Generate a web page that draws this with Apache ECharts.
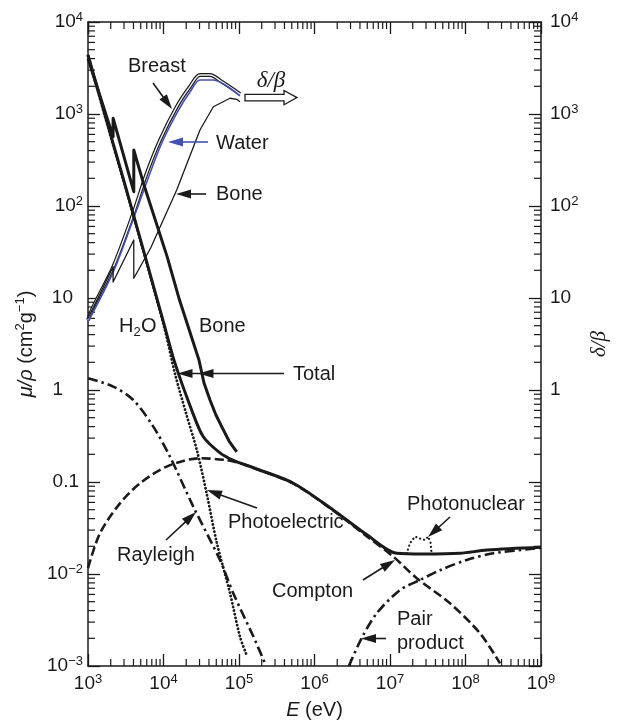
<!DOCTYPE html>
<html>
<head>
<meta charset="utf-8">
<script src="https://cdn.jsdelivr.net/npm/echarts@6/dist/echarts.min.js"></script>
<style>
  html, body { margin: 0; padding: 0; background: #fff; }
  #chart { width: 617px; height: 724px; }
</style>
</head>
<body>
<div id="chart"></div>
<script>
// Photon interaction cross sections of water (cm^2/g) versus energy E (eV),
// plus the delta/beta ratio of breast tissue, water and bone.
// Each list holds [E (eV), value] pairs.

const totalWater = [[1e3, 4400], [2.16e3, 472], [3.31e3, 140], [1.01e4, 5.3], [1.38e4, 2.1],
  [2.36e4, 0.607], [3.37e4, 0.31], [5.6e4, 0.207], [8.3e4, 0.173], [1.58e5, 0.142],
  [5.25e5, 0.097], [1.77e6, 0.0496], [4.9e6, 0.0268], [1.23e7, 0.0168], [2.76e7, 0.0165],
  [8.45e7, 0.0168], [1.93e8, 0.0182], [1e9, 0.0195]];

const totalBone = [[1e3, 4000], [2.15e3, 566], [2.15e3, 900], [4.04e3, 143], [4.04e3, 406],
  [5.5e3, 170], [1.12e4, 28], [1.63e4, 9.5], [2.95e4, 2.12], [3.44e4, 1.19], [4.13e4, 0.778],
  [4.95e4, 0.535], [5.9e4, 0.399], [7.38e4, 0.279], [9.33e4, 0.213]];

const photoelectric = [[1e3, 4250], [2.16e3, 455], [3.31e3, 136], [1.01e4, 5.0], [1.42e4, 1.5],
  [2.0e4, 0.55], [2.76e4, 0.223], [3.73e4, 0.0753], [5.07e4, 0.022], [7.6e4, 0.0062],
  [1.03e5, 0.00209], [1.26e5, 0.00132]];

const rayleigh = [[1e3, 1.34], [2.16e3, 1.09], [3.98e3, 0.778], [7.33e3, 0.40], [1.22e4, 0.188],
  [2.48e4, 0.054], [5.6e4, 0.0142], [8.41e4, 0.00616], [1.55e5, 0.00209], [2.21e5, 0.00107]];

const compton = [[1e3, 0.0116], [1.44e3, 0.0277], [2.65e3, 0.0586], [4.89e3, 0.0968],
  [1.1e4, 0.147], [3.04e4, 0.181], [6.87e4, 0.173], [1.03e5, 0.16], [1.58e5, 0.142],
  [5.25e5, 0.096], [1.77e6, 0.049], [4.9e6, 0.0258], [1.11e7, 0.0154], [2.26e7, 0.009],
  [6.24e7, 0.0048], [1.56e8, 0.00226], [2.86e8, 0.00107]];

const pairProduction = [[2.85e6, 0.001], [4.2e6, 0.002], [6.67e6, 0.00374], [1.36e7, 0.0067],
  [2.49e7, 0.0086], [4.59e7, 0.011], [1.04e8, 0.0142], [2.33e8, 0.0168], [1e9, 0.0192]];

const photonuclear = [[1.66e7, 0.0167], [1.84e7, 0.0216], [2.14e7, 0.0255], [2.49e7, 0.0243],
  [2.91e7, 0.0234], [3.21e7, 0.0255], [3.47e7, 0.0215], [3.55e7, 0.0166]];

const deltaBetaBreast = [[1e3, 5.77], [1.175e3, 8.04], [2.16e3, 21.9], [3.98e3, 83.2],
  [5.98e3, 226], [9.0e3, 522], [1.5e4, 1200], [2.24e4, 1980], [3.04e4, 2655],
  [4.13e4, 2655], [5.96e4, 2230], [1.03e5, 1650]];

const deltaBetaWater = [[1e3, 5.5], [2.16e3, 19.2], [3.98e3, 72], [9.0e3, 438], [1.5e4, 1025],
  [2.24e4, 1733], [3.04e4, 2343], [4.53e4, 2343], [1.03e5, 1570]];

const deltaBetaBone = [[1e3, 6.0], [2.15e3, 21.9], [2.15e3, 14.9], [4.04e3, 42.7], [4.04e3, 16.4],
  [6.76e3, 35], [1.5e4, 150], [3.04e4, 670], [4.57e4, 1200], [7.6e4, 1483],
  [9.33e4, 1445], [1.03e5, 1362]];

// Axis ranges and minor tick multipliers
const energyRange = [1e3, 1e9];
const muRange = [1e-3, 1e4];
const energyDecades = [1e3, 1e4, 1e5, 1e6, 1e7, 1e8];
const muDecades = [1e-3, 1e-2, 1e-1, 1, 10, 100, 1000];
const minorSteps = [2, 3, 4, 5, 6, 7, 8, 9];

const INK = '#1a1a1a';
const BLUE = '#4351b3';
const FONT = '"Liberation Sans", Arial, Helvetica, sans-serif';
const SERIF = '"Liberation Serif", "DejaVu Serif", serif';

const richTick = {
  b:   { fontSize: 19, fontFamily: FONT, color: INK, lineHeight: 22 },
  b10: { fontSize: 19, fontFamily: FONT, color: INK, lineHeight: 22, padding: [0, 10, 0, 0] },
  b1:  { fontSize: 19, fontFamily: FONT, color: INK, lineHeight: 22, padding: [0, 20, 0, 0] },
  b01: { fontSize: 19, fontFamily: FONT, color: INK, lineHeight: 22, padding: [0, 4, 0, 0] },
  s:   { fontSize: 13, fontFamily: FONT, color: INK, verticalAlign: 'top', lineHeight: 13 }
};

function expOf(v) { return Math.round(Math.log10(v)); }
function powText(e) { return '{b|10}{s|' + (e < 0 ? '\u2212' + (-e) : e) + '}'; }

function leftLabel(v) {
  const e = expOf(v);
  if (e === 0) return '{b1|1}';
  if (e === 1) return '{b10|10}';
  if (e === -1) return '{b01|0.1}';
  return powText(e);
}
function rightLabel(v) {
  const e = expOf(v);
  if (e < 0) return '';
  if (e === 0) return '{b|1}';
  if (e === 1) return '{b|10}';
  return powText(e);
}
function energyLabel(v) { return powText(expOf(v)); }

// Minor ticks (2..9 within each decade) on all four sides of the frame
const minorTicks = [];
muDecades.forEach(d => minorSteps.forEach(m => {
  minorTicks.push([energyRange[0], m * d, 0]);
  minorTicks.push([energyRange[1], m * d, 1]);
}));
energyDecades.forEach(d => minorSteps.forEach(m => {
  minorTicks.push([m * d, muRange[0], 2]);
  minorTicks.push([m * d, muRange[1], 3]);
}));

function baseAxis(extra) {
  return Object.assign({
    type: 'log',
    logBase: 10,
    axisLine: { show: true, onZero: false, lineStyle: { color: INK, width: 1.5 } },
    axisTick: { show: true, inside: true, length: 12, lineStyle: { color: INK, width: 1.3 } },
    splitLine: { show: false },
    minorTick: { show: false },
    minorSplitLine: { show: false }
  }, extra);
}

function lineSeries(name, data, style, extra) {
  return Object.assign({
    name: name,
    type: 'line',
    data: data,
    showSymbol: false,
    symbol: 'none',
    silent: true,
    smooth: 0.3,
    lineStyle: Object.assign({ color: INK, join: 'round' }, style),
    emphasis: { disabled: true },
    animation: false
  }, extra || {});
}
const SHARP = { smooth: false };

// ---- annotation helpers (pixel layout of the callouts) ----
function label(x, y, text, opts) {
  return {
    type: 'text', x: x, y: y, z: 100, silent: true,
    style: Object.assign({
      text: text, fill: INK, font: '20px ' + FONT,
      align: 'left', verticalAlign: 'middle',
      textAlign: 'left', textVerticalAlign: 'middle'
    }, opts || {})
  };
}
function arrowHead(tipX, tipY, fromX, fromY, color) {
  const dx = tipX - fromX, dy = tipY - fromY, L = Math.hypot(dx, dy);
  const ux = dx / L, uy = dy / L, len = 15, hw = 4.6;
  const bx = tipX - ux * len, by = tipY - uy * len;
  return {
    type: 'polygon', z: 100, silent: true,
    shape: { points: [[tipX, tipY], [bx - uy * hw, by + ux * hw], [bx + uy * hw, by - ux * hw]] },
    style: { fill: color }
  };
}
function arrow(x1, y1, x2, y2, color) {
  color = color || INK;
  const dx = x2 - x1, dy = y2 - y1, L = Math.hypot(dx, dy);
  return [
    { type: 'line', z: 100, silent: true,
      shape: { x1: x1, y1: y1, x2: x2 - dx / L * 10, y2: y2 - dy / L * 10 },
      style: { stroke: color, lineWidth: 1.6 } },
    arrowHead(x2, y2, x1, y1, color)
  ];
}

const annotations = [].concat(
  [label(128, 66, 'Breast')], arrow(153, 83, 172, 109),
  [label(216, 143, 'Water')], arrow(208, 142, 168, 142, BLUE),
  [label(216, 194, 'Bone')], arrow(206, 194, 176, 194),
  [label(271, 81, '\u03B4/\u03B2', { font: 'italic 23px ' + SERIF, align: 'center', textAlign: 'center' })],
  [{
    type: 'polygon', z: 100, silent: true,
    shape: { points: [[245, 94.3], [284, 94.3], [284, 90.5], [297, 97.6], [284, 104.7], [284, 100.9], [245, 100.9]] },
    style: { fill: '#fff', stroke: INK, lineWidth: 1.3 }
  }],
  [label(119, 326, 'H'), label(133.5, 332, '2', { font: '13px ' + FONT }), label(141, 326, 'O')],
  [label(199, 326, 'Bone')],
  [label(293, 374, 'Total')],
  [{ type: 'line', z: 100, silent: true, shape: { x1: 284, y1: 373.5, x2: 186, y2: 373.5 },
     style: { stroke: INK, lineWidth: 1.6 } }],
  [arrowHead(198.5, 373.5, 284, 373.5, INK), arrowHead(177.5, 373.5, 284, 373.5, INK)],
  [label(228, 522, 'Photoelectric')], arrow(257, 508, 207, 490),
  [label(117, 555, 'Rayleigh')], arrow(166, 540, 196, 512),
  [label(272, 591, 'Compton')], arrow(363, 580, 395, 560),
  [label(407, 504, 'Photonuclear')], arrow(450, 517, 428, 537),
  [label(397, 619, 'Pair'), label(397, 643, 'product')], arrow(386, 638.5, 361, 638.5)
);

const chart = echarts.init(document.getElementById('chart'), null, { renderer: 'canvas' });

chart.setOption({
  backgroundColor: '#fff',
  animation: false,
  grid: { left: 88, right: 76, top: 22, bottom: 58, containLabel: false, outerBoundsMode: 'none' },
  xAxis: [
    baseAxis({
      position: 'bottom', min: energyRange[0], max: energyRange[1], splitNumber: 6,
      axisLabel: { margin: 7, formatter: energyLabel, rich: richTick },
      name: '{i|E} (eV)', nameLocation: 'middle', nameGap: 34,
      nameTextStyle: { fontSize: 20, fontFamily: FONT, color: INK,
        rich: { i: { fontSize: 20, fontFamily: FONT, color: INK, fontStyle: 'italic' } } }
    }),
    baseAxis({
      position: 'top', min: energyRange[0], max: energyRange[1], splitNumber: 6,
      axisLabel: { show: false }
    })
  ],
  yAxis: [
    baseAxis({
      position: 'left', min: muRange[0], max: muRange[1], splitNumber: 7,
      axisLabel: { margin: 5, formatter: leftLabel, rich: richTick },
      name: '{i|\u03BC/\u03C1} (cm{s|2}g{s|\u22121})', nameLocation: 'middle', nameGap: 50, nameRotate: 90,
      nameTextStyle: { fontSize: 20, fontFamily: FONT, color: INK,
        rich: {
          i: { fontSize: 20, fontFamily: FONT, color: INK, fontStyle: 'italic', lineHeight: 24 },
          s: { fontSize: 13, fontFamily: FONT, color: INK, verticalAlign: 'top', lineHeight: 14 }
        } }
    }),
    baseAxis({
      position: 'right', min: muRange[0], max: muRange[1], splitNumber: 7,
      axisLabel: { margin: 9, formatter: rightLabel, rich: richTick },
      name: '\u03B4/\u03B2', nameLocation: 'middle', nameGap: 46, nameRotate: 90,
      nameTextStyle: { fontSize: 21, fontFamily: SERIF, fontStyle: 'italic', color: INK }
    })
  ],
  series: [
    // delta/beta curves
    lineSeries('Breast', deltaBetaBreast, { width: 3.8, color: INK }),
    lineSeries('Breast inner', deltaBetaBreast, { width: 1.4, color: '#f2f2f2' }),
    lineSeries('Water', deltaBetaWater, { width: 1.6, color: BLUE }),
    lineSeries('Bone', deltaBetaBone, { width: 1.3, color: INK }, SHARP),
    // partial cross sections
    lineSeries('Compton', compton, { width: 2.6, type: [9, 4] }),
    lineSeries('Rayleigh', rayleigh, { width: 2.6, type: [10, 4, 2.5, 4] }),
    lineSeries('Pair production', pairProduction, { width: 2.6, type: [10, 4, 2.5, 4] }),
    lineSeries('Photoelectric', photoelectric, { width: 2.8, type: [0.1, 3.6], cap: 'round' }),
    lineSeries('Photonuclear', photonuclear, { width: 2.2, type: [0.1, 4], cap: 'round' }, SHARP),
    // totals
    lineSeries('Total H2O', totalWater, { width: 3 }),
    lineSeries('Total bone', totalBone, { width: 3 }, SHARP),
    {
      name: 'minor ticks',
      type: 'custom',
      data: minorTicks,
      dimensions: ['x', 'y', 'side'],
      encode: { x: 0, y: 1 },
      clip: false,
      silent: true,
      animation: false,
      renderItem: function (params, api) {
        const side = api.value(2);
        const p = api.coord([api.value(0), api.value(1)]);
        const len = 7;
        let x2 = p[0], y2 = p[1];
        if (side === 0) x2 += len;
        else if (side === 1) x2 -= len;
        else if (side === 2) y2 -= len;
        else y2 += len;
        return { type: 'line', shape: { x1: p[0], y1: p[1], x2: x2, y2: y2 },
                 style: { stroke: INK, lineWidth: 1.2 } };
      }
    }
  ],
  graphic: annotations
});
</script>
</body>
</html>
